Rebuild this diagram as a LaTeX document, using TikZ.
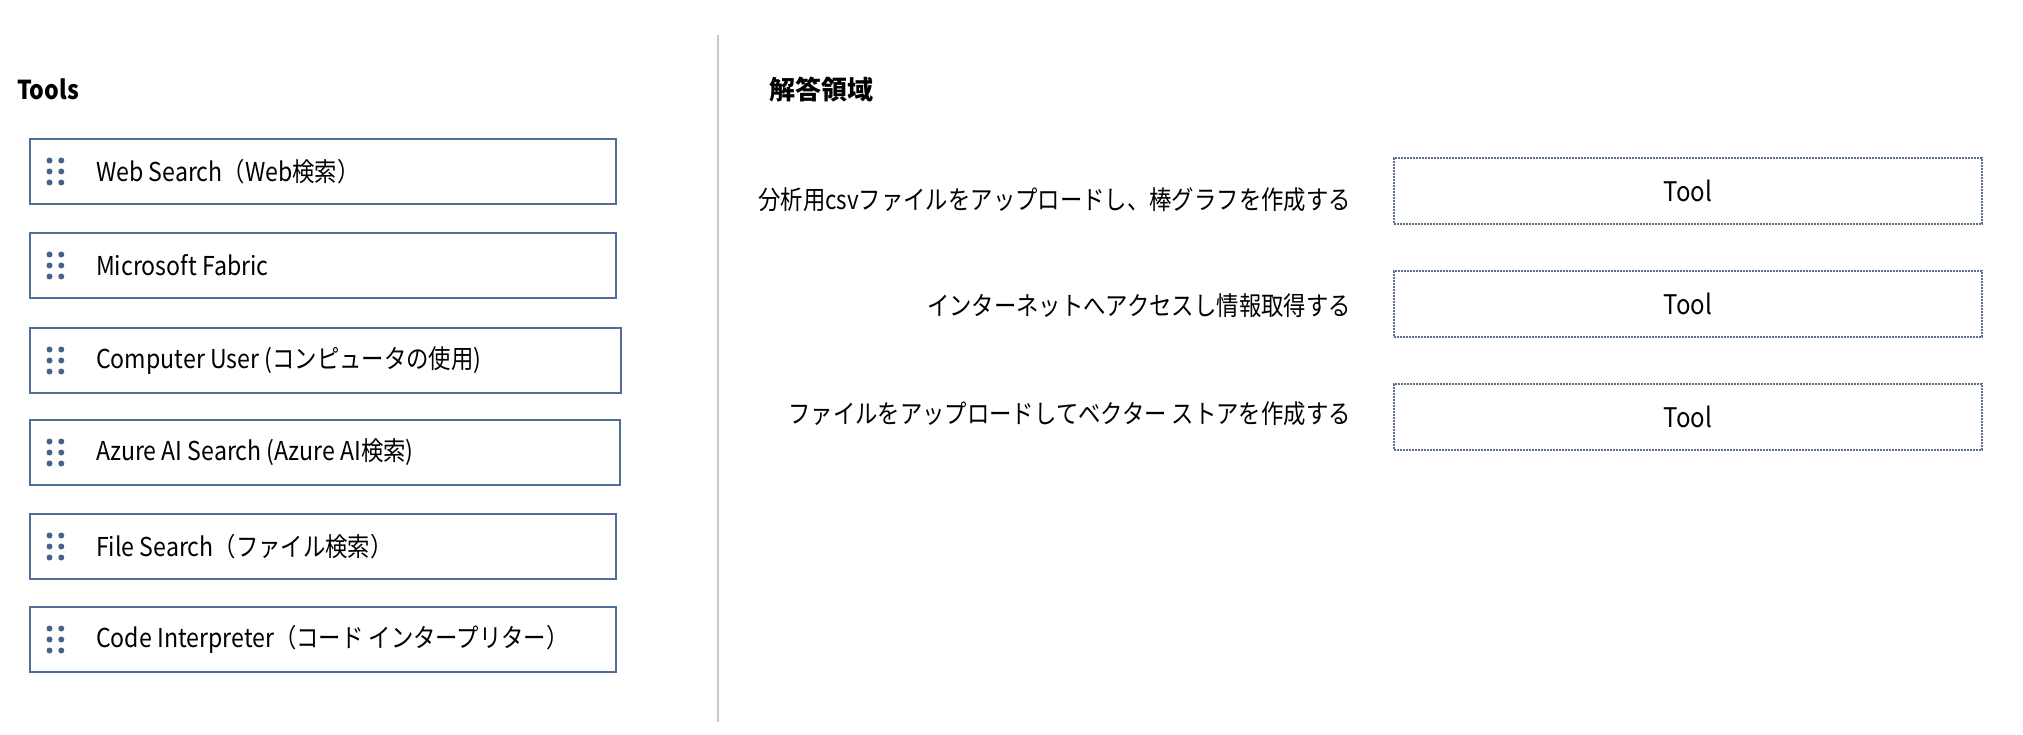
\documentclass[tikz,border=0pt]{standalone}
\usepackage{fontspec}
\setmainfont[FakeStretch=0.89]{Noto Sans CJK JP}
\newfontfamily\ja[FakeStretch=0.86]{Noto Sans CJK JP}
\newfontfamily\jfull{Noto Sans CJK JP}
\newcommand{\J}[1]{{\ja #1}}
\definecolor{boxblue}{RGB}{79,111,153}
\definecolor{dotblue}{RGB}{68,98,138}
\definecolor{slotcol}{RGB}{95,112,138}
\definecolor{divgray}{RGB}{200,200,200}
\begin{document}
\begin{tikzpicture}[x=1pt,y=-1pt,
  toolbox/.style={draw=boxblue,line width=2pt,anchor=north west,minimum height=65pt,inner sep=0pt},
  tooltext/.style={anchor=west,inner sep=0pt,font=\fontsize{26}{30}\selectfont},
  heading/.style={anchor=west,inner sep=0pt,font=\bfseries\fontsize{26}{30}\selectfont},
  tasklabel/.style={anchor=east,inner sep=0pt,font=\ja\fontsize{26}{30}\selectfont},
  slot/.style={draw=slotcol,line width=1.5pt,dash pattern=on 1.6pt off 1.4pt,minimum width=588pt,minimum height=66pt,inner sep=0pt,font=\fontsize{27}{30}\selectfont},
  grip/.style={fill=dotblue}
]
\useasboundingbox (0,0) rectangle (2023,735);
\fill[white] (0,0) rectangle (2023,735);

% divider
\draw[divgray,line width=1.5pt] (718,35) -- (718,722);

% headings
\node[heading] (hTools) at (17,89) {Tools};
\node[heading,font=\jfull\bfseries\fontsize{26}{30}\selectfont] (hAns) at (769,90) {解答領域};

% tool boxes
\node[toolbox,minimum width=586pt] (b1) at (29,138) {};
\node[toolbox,minimum width=586pt] (b2) at (29,232) {};
\node[toolbox,minimum width=591pt] (b3) at (29,327) {};
\node[toolbox,minimum width=590pt] (b4) at (29,419) {};
\node[toolbox,minimum width=586pt] (b5) at (29,513) {};
\node[toolbox,minimum width=586pt] (b6) at (29,606) {};

\foreach \b in {b1,b2,b3,b4,b5,b6}{
  \foreach \dx in {20.5,32.3}{
    \foreach \dy in {-11,0,11}{
      \fill[grip] ([xshift=\dx pt,yshift=-\dy pt]\b.west) circle (3pt);
    }
  }
}

\node[tooltext] (t1) at ([xshift=67pt]b1.west) {Web Search\J{（}Web\J{検索）}};
\node[tooltext] (t2) at ([xshift=67pt]b2.west) {Microsoft Fabric};
\node[tooltext] (t3) at ([xshift=67pt]b3.west) {Computer User (\J{コンピュータの使用})};
\node[tooltext] (t4) at ([xshift=67pt]b4.west) {Azure AI Search (Azure AI\J{検索})};
\node[tooltext] (t5) at ([xshift=67pt]b5.west) {File Search\J{（ファイル検索）}};
\node[tooltext] (t6) at ([xshift=67pt]b6.west) {Code Interpreter\J{（コード インタープリター）}};

% answer area
\node[slot] (s1) at (1688,191) {Tool};
\node[slot] (s2) at (1688,304) {Tool};
\node[slot] (s3) at (1688,417) {Tool};

\node[tasklabel] (l1) at (1351,200) {分析用csvファイルをアップロードし、棒グラフを作成する};
\node[tasklabel] (l2) at (1351,306) {インターネットへアクセスし情報取得する};
\node[tasklabel] (l3) at (1351,414) {ファイルをアップロードしてベクター ストアを作成する};
\end{tikzpicture}
\end{document}
